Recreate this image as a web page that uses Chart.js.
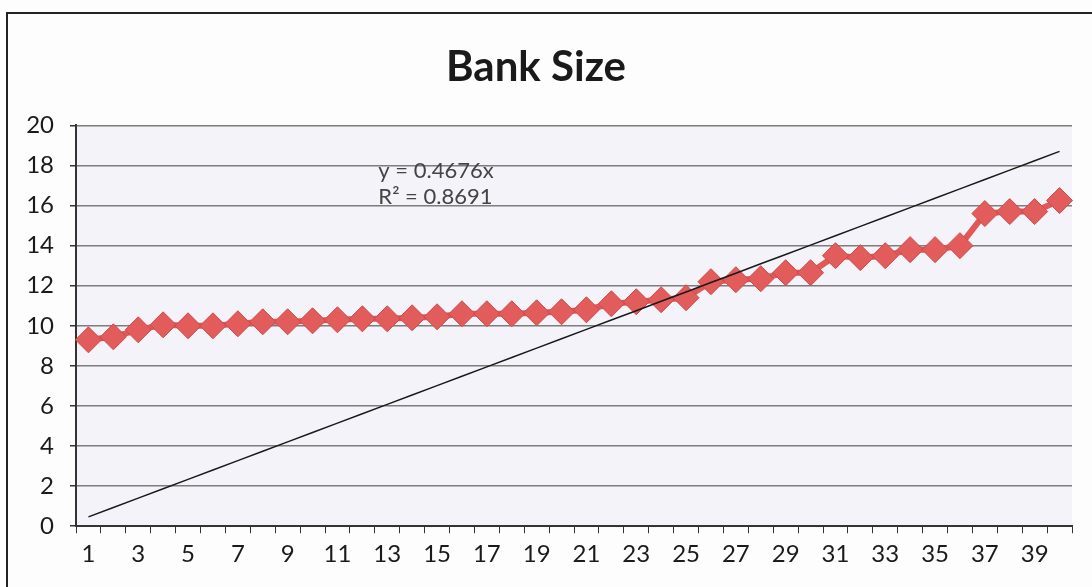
<!DOCTYPE html>
<html lang="en">
  <head>
    <meta charset="UTF-8" />
    <title>Bank Size</title>
    <script src="https://cdn.jsdelivr.net/npm/chart.js"></script>
    <style>
      html, body { margin: 0; padding: 0; background: #fdfdfd; }
      #wrap { position: relative; width: 1092px; height: 587px; }
    </style>
  </head>
  <body>
    <div id="wrap"><canvas id="chart" width="1092" height="587"></canvas></div>

    <script>
      // bank sizes, positions 1..40
      const positions = Array.from({ length: 40 }, (_, i) => String(i + 1));
      const bankSize = [
        9.3, 9.45, 9.8, 10.05, 10.0, 10.0, 10.1, 10.2, 10.2, 10.25,
        10.3, 10.35, 10.35, 10.4, 10.45, 10.6, 10.6, 10.6, 10.65, 10.7,
        10.8, 11.1, 11.2, 11.3, 11.4, 12.2, 12.3, 12.35, 12.65, 12.65,
        13.5, 13.4, 13.5, 13.8, 13.8, 14.0, 15.6, 15.7, 15.7, 16.25
      ];
      // linear trend through the origin
      const slope = 0.4676;
      const rSquared = 0.8691;
      const trend = positions.map((p) => slope * Number(p));
      const yTicks = [0, 2, 4, 6, 8, 10, 12, 14, 16, 18, 20];

      const font = "Lato, 'Open Sans', sans-serif";

      // plot background, outer frame and trend equation
      const decor = {
        id: "decor",
        beforeDraw(chart) {
          const { ctx, chartArea: a } = chart;
          ctx.save();
          ctx.fillStyle = "#f3f3f9";
          ctx.fillRect(a.left, a.top, a.right - a.left, a.bottom - a.top);
          ctx.strokeStyle = "#222";
          ctx.lineWidth = 2;
          ctx.beginPath();
          ctx.moveTo(7, 587);
          ctx.lineTo(7, 13);
          ctx.lineTo(1092, 13);
          ctx.stroke();
          ctx.restore();
        },
        afterDatasetsDraw(chart) {
          const { ctx, scales } = chart;
          const x = scales.x.getPixelForValue(11) + 16;
          const y = scales.y.getPixelForValue(17.75);
          ctx.save();
          ctx.fillStyle = "#444";
          ctx.font = "22px " + font;
          ctx.textAlign = "left";
          ctx.textBaseline = "middle";
          ctx.fillText("y = " + slope + "x", x, y);
          ctx.fillText("R\u00B2 = " + rSquared, x, y + 26);
          ctx.restore();
        },
      };

      new Chart(document.getElementById("chart"), {
        type: "line",
        data: {
          labels: positions,
          datasets: [
            {
              label: "Bank Size",
              data: bankSize,
              borderColor: "#e05858",
              backgroundColor: "#e25c5c",
              borderWidth: 6,
              pointStyle: "rectRot",
              pointRadius: 13,
              pointBorderWidth: 1,
              pointBorderColor: "#cf4b4b",
              tension: 0,
              order: 1,
            },
            {
              label: "Linear (Bank Size)",
              data: trend,
              borderColor: "#1a1a1a",
              borderWidth: 1.5,
              pointRadius: 0,
              tension: 0,
              order: 0,
            },
          ],
        },
        options: {
          responsive: false,
          animation: false,
          layout: { padding: { left: 0, right: 20, top: 0, bottom: 11 } },
          plugins: {
            legend: { display: false },
            tooltip: { enabled: false },
            title: {
              display: true,
              text: "Bank Size",
              color: "#1a1a1a",
              font: { family: font, size: 42, weight: "bold" },
              padding: { top: 42, bottom: 33 },
            },
          },
          scales: {
            x: {
              offset: true,
              grid: {
                offset: true,
                drawOnChartArea: false,
                drawTicks: true,
                tickLength: 7,
                tickColor: "#333",
              },
              border: { color: "#333", width: 2 },
              ticks: {
                autoSkip: false,
                maxRotation: 0,
                padding: 7,
                color: "#1a1a1a",
                font: { family: font, size: 24 },
                callback: (v, i) => (i % 2 === 0 ? positions[i] : ""),
              },
            },
            y: {
              min: 0,
              max: 20,
              afterBuildTicks: (scale) => {
                scale.ticks = yTicks.map((v) => ({ value: v }));
              },
              afterFit: (scale) => {
                scale.width = 76;
              },
              grid: {
                color: "#7d7d7d",
                lineWidth: 1.5,
                tickLength: 6,
                tickColor: "#333",
              },
              border: { color: "#333", width: 2 },
              ticks: {
                padding: 16,
                color: "#1a1a1a",
                font: { family: font, size: 24 },
              },
            },
          },
        },
        plugins: [decor],
      });
    </script>
  </body>
</html>
